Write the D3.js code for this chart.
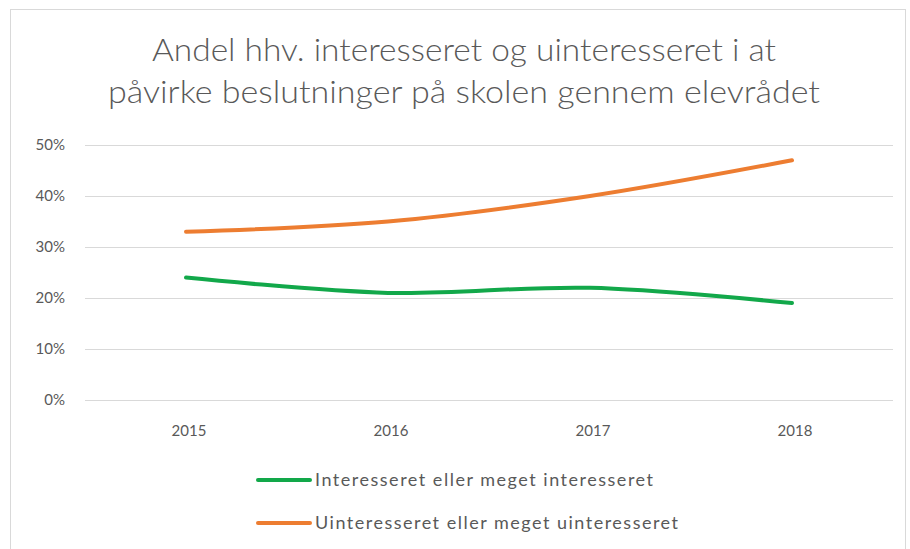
<!DOCTYPE html>
<html>
<head>
<meta charset="utf-8">
<script src="https://cdn.jsdelivr.net/npm/d3@7"></script>
<style>
  body { margin: 0; background: #fff; }
  text { font-family: Lato, "Open Sans", sans-serif; fill: #595959; }
</style>
</head>
<body>
<div id="chart"></div>
<script>
// DATA
const years = ["2015", "2016", "2017", "2018"];
const interesseret = [0.24, 0.21, 0.22, 0.19];
const uinteresseret = [0.33, 0.35, 0.40, 0.47];
const yTicks = [0, 0.1, 0.2, 0.3, 0.4, 0.5];
const seriesNames = ["Interesseret eller meget interesseret", "Uinteresseret eller meget uinteresseret"];
const seriesColors = ["#12a84a", "#ed7d31"];
const legendTextWidths = [338, 363];

const width = 910;
const height = 549;
const margin = { top: 145, right: 17, bottom: 149, left: 85 };
const innerW = width - margin.left - margin.right;
const innerH = height - margin.top - margin.bottom;

const svg = d3.select("#chart")
    .append("svg")
    .attr("width", width)
    .attr("height", height);

// frame
svg.append("rect")
    .attr("x", 10.5).attr("y", 9.5)
    .attr("width", 895).attr("height", 560)
    .attr("fill", "none")
    .attr("stroke", "#d9d9d9");

// TITLE
const title = svg.append("text")
    .attr("text-anchor", "middle")
    .style("font-size", "31px")
    .style("font-weight", 300);
title.append("tspan").attr("x", 464).attr("y", 61)
    .attr("textLength", 624).attr("lengthAdjust", "spacingAndGlyphs")
    .text("Andel hhv. interesseret og uinteresseret i at");
title.append("tspan").attr("x", 464).attr("y", 103)
    .attr("textLength", 712).attr("lengthAdjust", "spacingAndGlyphs")
    .text("påvirke beslutninger på skolen gennem elevrådet");

const g = svg.append("g")
    .attr("transform", `translate(${margin.left}, ${margin.top})`);

const xScale = d3.scaleBand()
    .domain(years)
    .range([0, innerW]);

const yScale = d3.scaleLinear()
    .domain([0, 0.5])
    .range([innerH, 0]);

// GRID
g.selectAll(".grid")
    .data(yTicks)
    .enter().append("line")
    .attr("x1", 0).attr("x2", innerW)
    .attr("y1", d => Math.round(yScale(d)) + 0.5)
    .attr("y2", d => Math.round(yScale(d)) + 0.5)
    .attr("stroke", "#d9d9d9")
    .attr("stroke-width", 1);

// AXES
const yAxis = d3.axisLeft(yScale)
    .tickValues(yTicks)
    .tickFormat(d3.format(".0%"))
    .tickSize(0)
    .tickPadding(20);

g.append("g").call(yAxis)
    .call(a => a.select(".domain").remove())
    .selectAll("text")
    .style("font-size", "15px")
    .attr("fill", "#595959");

const xAxis = d3.axisBottom(xScale)
    .tickSize(0)
    .tickPadding(25);

g.append("g")
    .attr("transform", `translate(0, ${innerH})`)
    .call(xAxis)
    .call(a => a.select(".domain").remove())
    .selectAll("text")
    .attr("dx", 3)
    .style("font-size", "15px")
    .attr("fill", "#595959");

// LINES
const line = d3.line()
    .x((d, i) => xScale(years[i]) + xScale.bandwidth() / 2)
    .y(d => yScale(d))
    .curve(d3.curveCatmullRom.alpha(0.5));

[interesseret, uinteresseret].forEach((vals, i) => {
    g.append("path")
        .datum(vals)
        .attr("fill", "none")
        .attr("stroke", seriesColors[i])
        .attr("stroke-width", 4)
        .attr("stroke-linecap", "round")
        .attr("stroke-linejoin", "round")
        .attr("d", line);
});

// LEGEND
const legend = svg.append("g")
    .attr("transform", "translate(258, 480)");

const legendItem = legend.selectAll(".legend")
    .data(seriesNames)
    .enter().append("g")
    .attr("class", "legend")
    .attr("transform", (d, i) => `translate(0, ${i * 43})`);

legendItem.append("line")
    .attr("x1", 0).attr("x2", 52)
    .attr("y1", 0).attr("y2", 0)
    .attr("stroke", (d, i) => seriesColors[i])
    .attr("stroke-width", 4)
    .attr("stroke-linecap", "round");

legendItem.append("text")
    .attr("x", 57)
    .attr("y", 0)
    .attr("dy", "0.36em")
    .attr("textLength", (d, i) => legendTextWidths[i])
    .attr("lengthAdjust", "spacing")
    .style("font-size", "18px")
    .text(d => d);
</script>
</body>
</html>
